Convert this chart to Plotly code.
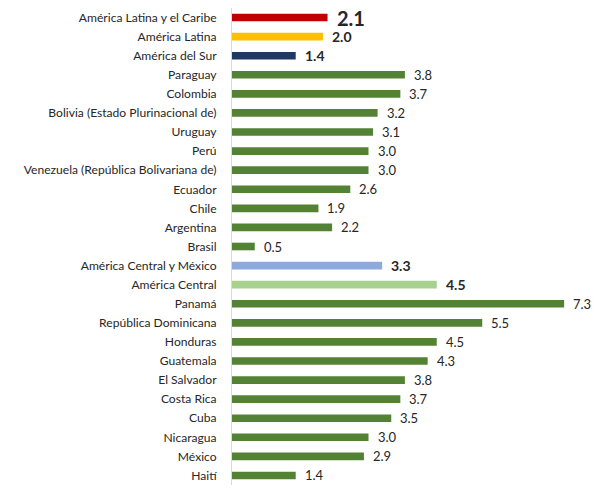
import plotly.graph_objects as go

categories = ["América Latina y el Caribe", "América Latina", "América del Sur", "Paraguay", "Colombia",
              "Bolivia (Estado Plurinacional de)", "Uruguay", "Perú", "Venezuela (República Bolivariana de)",
              "Ecuador", "Chile", "Argentina", "Brasil", "América Central y México", "América Central",
              "Panamá", "República Dominicana", "Honduras", "Guatemala", "El Salvador", "Costa Rica",
              "Cuba", "Nicaragua", "México", "Haití"]
values = [2.1, 2.0, 1.4, 3.8, 3.7, 3.2, 3.1, 3.0, 3.0, 2.6, 1.9, 2.2, 0.5, 3.3, 4.5,
          7.3, 5.5, 4.5, 4.3, 3.8, 3.7, 3.5, 3.0, 2.9, 1.4]

GREEN = "#548235"
special_colors = {"América Latina y el Caribe": "#C00000", "América Latina": "#FFC000",
                  "América del Sur": "#1F3864", "América Central y México": "#8EA9DB",
                  "América Central": "#A9D18E"}
colors = [special_colors.get(c, GREEN) for c in categories]

fig = go.Figure(go.Bar(
    y=categories, x=values, orientation="h", marker=dict(color=colors, line=dict(width=0)),
    width=0.4, hoverinfo="skip"))

for c, v in zip(categories, values):
    if c == "América Latina y el Caribe":
        txt, size = f"<b>{v:.1f}</b>", 20
    elif c in special_colors:
        txt, size = f"<b>{v:.1f}</b>", 14
    else:
        txt, size = f"{v:.1f}", 13
    fig.add_annotation(x=v, y=c, text=txt, xanchor="left", yanchor="middle", xshift=7,
                       showarrow=False, font=dict(family="Lato", size=size, color="#262626"))

fig.update_layout(
    width=600, height=488, margin=dict(l=232, r=4, t=8, b=3),
    paper_bgcolor="white", plot_bgcolor="white", showlegend=False,
    font=dict(family="Lato", size=12, color="#262626"),
    xaxis=dict(range=[0, 8], visible=False),
    yaxis=dict(range=[24.5, -0.5], showline=True, linecolor="#D9D9D9", linewidth=1,
               ticks="", showgrid=False, ticklabelstandoff=12, tickfont=dict(size=12.1, color="#262626")),
)
fig.write_html("out.html")
